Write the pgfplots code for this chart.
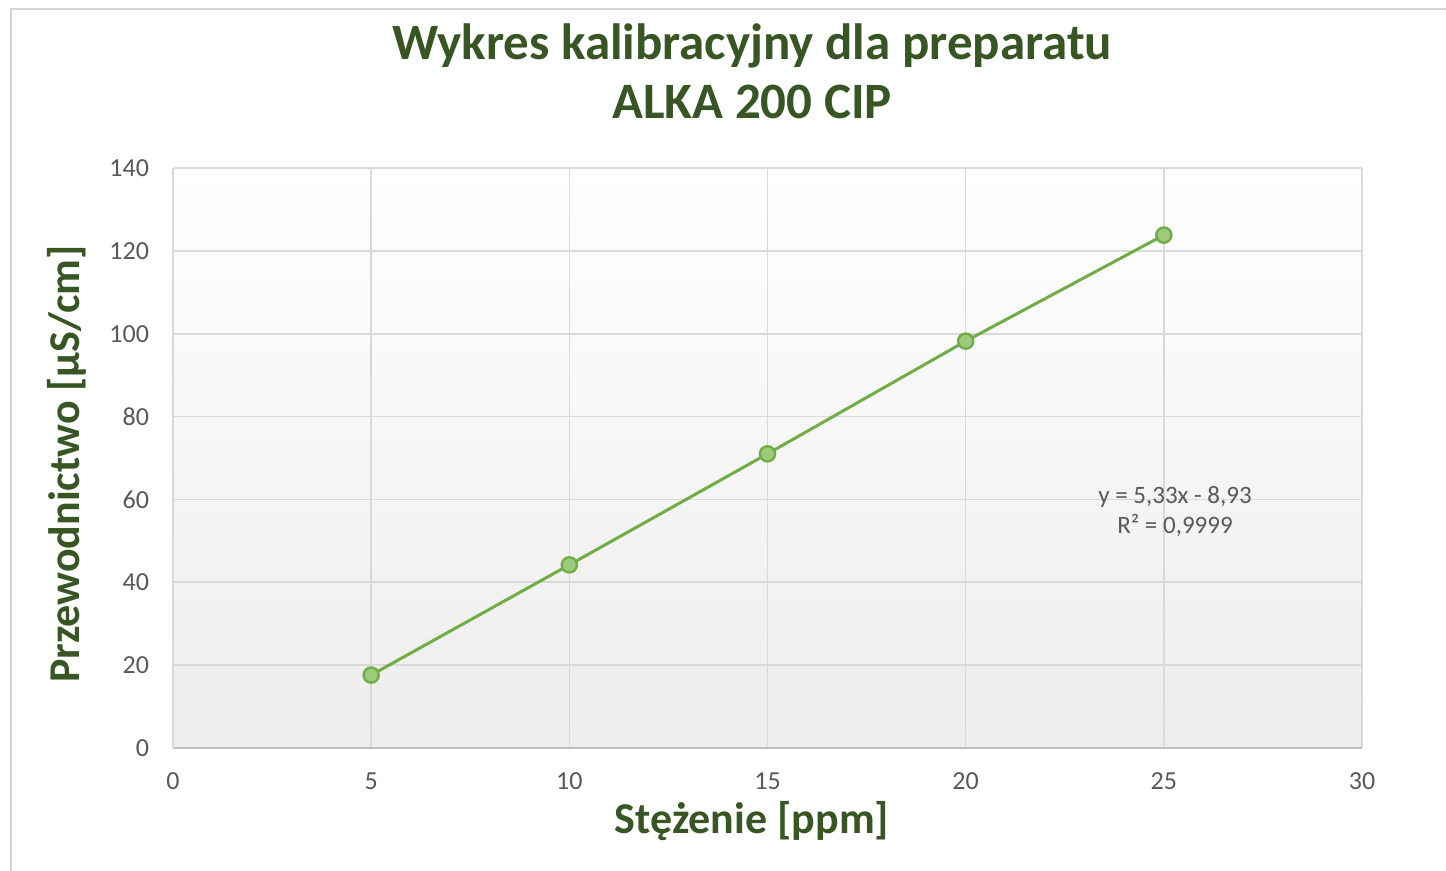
\documentclass[border=0pt]{standalone}
\usepackage{fontspec}
\setmainfont{Carlito}
\usepackage{pgfplots}
\pgfplotsset{compat=1.18}
\definecolor{titlegreen}{HTML}{375623}
\definecolor{linegreen}{HTML}{70AD47}
\definecolor{markfill}{HTML}{9CCB7C}
\definecolor{tickgray}{HTML}{595959}
\definecolor{gridgray}{HTML}{D9D9D9}
\definecolor{axisgray}{HTML}{BFBFBF}
\definecolor{framegray}{HTML}{D4D4D4}
\definecolor{bgbottom}{HTML}{EDEDED}
\definecolor{bgmid}{HTML}{F8F8F8}
\begin{document}
\begin{tikzpicture}[x=1pt,y=1pt]
\useasboundingbox (0,0) rectangle (723,435.5);
\fill[white] (0,0) rectangle (723,435.5);
\draw[framegray, line width=1.2pt] (5.5,0) -- (5.5,431) -- (723,431);
\begin{axis}[
  at={(86.5pt,61.5pt)}, anchor=south west,
  scale only axis, width=594.5pt, height=290pt,
  xmin=0, xmax=30, ymin=0, ymax=140,
  xtick={0,5,...,30}, ytick={0,20,...,140},
  axis x line*=bottom, axis y line*=left,
  x axis line style={draw=axisgray, line width=1pt},
  y axis line style={draw=gridgray, line width=0.8pt},
  grid=major, major grid style={draw=gridgray, line width=0.8pt},
  major tick length=0pt,
  ticklabel style={font=\fontsize{13}{15}\selectfont, text=tickgray},
  xticklabel style={yshift=-9pt},
  yticklabel style={xshift=-8.5pt},
  /pgf/number format/assume math mode=true,
  axis background/.style={top color=white, middle color=bgmid, bottom color=bgbottom},
  clip=false,
]
\addplot[color=linegreen, line width=1.5pt, mark=*, mark size=3.8pt,
  mark options={fill=markfill, draw=linegreen, line width=1.2pt}]
  coordinates {(5,17.6) (10,44.2) (15,71.0) (20,98.2) (25,123.8)};
\end{axis}
\node[anchor=base, text=titlegreen, font=\bfseries\fontsize{25.5}{30}\selectfont] at (376,405.5) {Wykres kalibracyjny dla preparatu};
\node[anchor=base, text=titlegreen, font=\bfseries\fontsize{25.5}{30}\selectfont] at (376,376) {ALKA 200 CIP};
\node[anchor=base, text=titlegreen, font=\bfseries\fontsize{22}{26}\selectfont] at (376,18.5) {Stężenie [ppm]};
\node[anchor=base, rotate=90, text=titlegreen, font=\bfseries\fontsize{22}{26}\selectfont] at (39.5,203.5) {Przewodnictwo [µS/cm]};
\node[anchor=base, text=tickgray, font=\fontsize{12.5}{15}\selectfont] at (587.5,183.5) {y = 5,33x - 8,93};
\node[anchor=base, text=tickgray, font=\fontsize{12.5}{15}\selectfont] at (587.5,168.5) {R² = 0,9999};
\end{tikzpicture}
\end{document}
